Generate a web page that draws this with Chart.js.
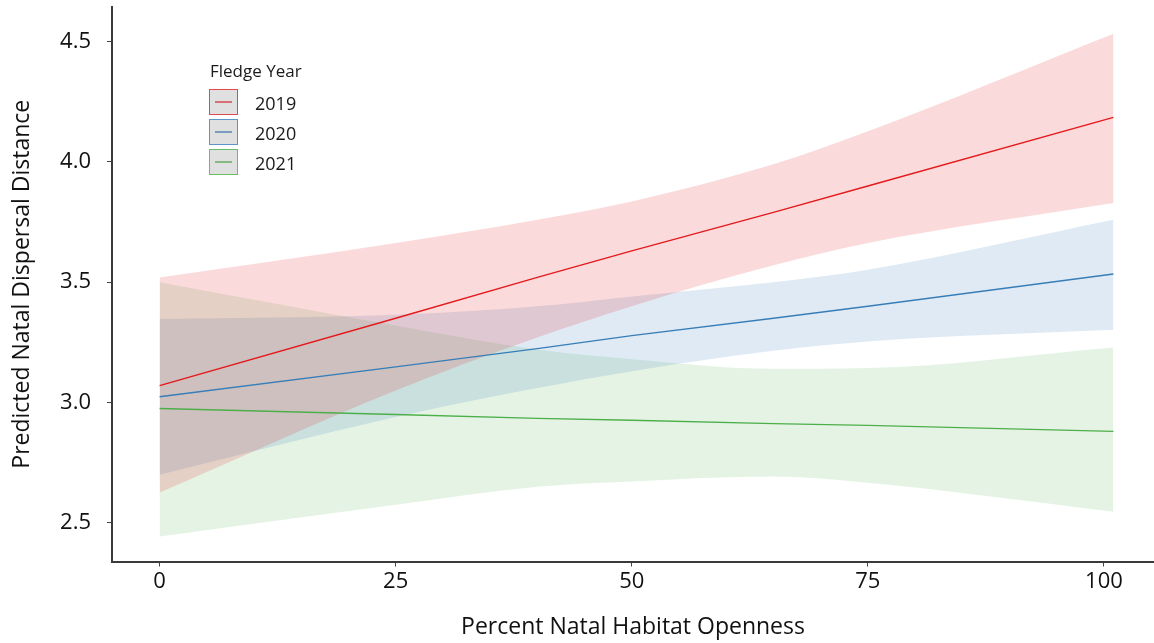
<!DOCTYPE html>
<html>
<head>
<meta charset="utf-8">
<script src="https://cdn.jsdelivr.net/npm/chart.js@4.4.0/dist/chart.umd.min.js"></script>
<style>
    body { margin: 0; background: #fff; }
    #wrap { position: relative; width: 1154px; height: 643px; }
    #legend { position: absolute; left: 0; top: 0; font-family: 'Open Sans', sans-serif; color: #1a1a1a; }
    #legend .ltitle { position: absolute; left: 210px; top: 61px; font-size: 17px; line-height: 20px; white-space: nowrap; }
    #legend .box { position: absolute; left: 209px; width: 27px; height: 24px; background: #e0e0e0; border: 1.5px solid; }
    #legend .box i { position: absolute; left: 5px; right: 5px; top: 11px; height: 2px; }
    #legend .lab { position: absolute; left: 255px; font-size: 18px; line-height: 24px; }
</style>
</head>
<body>
<div id="wrap">
    <canvas id="myChart" width="1154" height="643"></canvas>
    <div id="legend"></div>
</div>
<script>
// x positions (percent natal habitat openness) where the curves were read
const openness = [0, 25, 40, 50, 65, 75, 101];

const years = ['2019', '2020', '2021'];

// fitted values and confidence limits
const fit2019 = [3.07, 3.35, 3.52, 3.63, 3.79, 3.90, 4.185];
const hi2019  = [3.52, 3.663, 3.76, 3.836, 3.99, 4.127, 4.533];
const lo2019  = [2.626, 3.05, 3.27, 3.40, 3.57, 3.663, 3.829];

const fit2020 = [3.024, 3.148, 3.224, 3.278, 3.35, 3.40, 3.534];
const hi2020  = [3.347, 3.365, 3.40, 3.441, 3.50, 3.552, 3.760];
const lo2020  = [2.70, 2.94, 3.06, 3.13, 3.215, 3.254, 3.302];

const fit2021 = [2.975, 2.95, 2.934, 2.926, 2.912, 2.905, 2.88];
const hi2021  = [3.50, 3.32, 3.22, 3.18, 3.14, 3.143, 3.229];
const lo2021  = [2.443, 2.575, 2.65, 2.672, 2.692, 2.666, 2.546];

const xTicks = [0, 25, 50, 75, 100];
const yTicks = [2.5, 3.0, 3.5, 4.0, 4.5];

const lineColors = ['#e41a1c', '#377eb8', '#4daf4a'];
const bandColors = ['rgba(228,26,28,0.16)', 'rgba(55,126,184,0.16)', 'rgba(77,175,74,0.15)'];
const legendBorders = ['#e8474b', '#5b95cc', '#66bf62'];
const legendLines = ['#d87072', '#7a9cbf', '#86b884'];

const fits = [fit2019, fit2020, fit2021];
const highs = [hi2019, hi2020, hi2021];
const lows = [lo2019, lo2020, lo2021];

const toPoints = arr => arr.map((y, i) => ({ x: openness[i], y: y }));
const FONT = 'Open Sans';

// lines first so they are drawn on top of the bands
const datasets = [];
years.forEach((yr, k) => {
    datasets.push({
        label: yr,
        data: toPoints(fits[k]),
        borderColor: lineColors[k],
        borderWidth: 1.4,
        pointRadius: 0,
        fill: false,
        tension: 0
    });
});
years.forEach((yr, k) => {
    datasets.push({
        label: yr + ' upper',
        data: toPoints(highs[k]),
        borderWidth: 0,
        borderColor: 'rgba(0,0,0,0)',
        backgroundColor: bandColors[k],
        pointRadius: 0,
        fill: '+1',
        cubicInterpolationMode: 'monotone'
    });
    datasets.push({
        label: yr + ' lower',
        data: toPoints(lows[k]),
        borderWidth: 0,
        borderColor: 'rgba(0,0,0,0)',
        pointRadius: 0,
        fill: false,
        cubicInterpolationMode: 'monotone'
    });
});

const ctx = document.getElementById('myChart').getContext('2d');
const myChart = new Chart(ctx, {
    type: 'line',
    data: { datasets: datasets },
    options: {
        responsive: false,
        animation: false,
        devicePixelRatio: 1,
        layout: { padding: { top: 7, right: 0, left: 0, bottom: 0 } },
        plugins: {
            legend: { display: false },
            tooltip: { enabled: false }
        },
        scales: {
            x: {
                type: 'linear',
                min: -5.04,
                max: 105.3,
                afterBuildTicks: s => { s.ticks = xTicks.map(v => ({ value: v })); },
                afterFit: s => { s.height = 81.5; s.paddingLeft = 0; s.paddingRight = 0; },
                ticks: { font: { family: FONT, size: 22 }, color: '#111', padding: 2 },
                grid: { drawOnChartArea: false, tickLength: 5, tickColor: '#444', tickWidth: 1 },
                border: { color: '#3a3a3a', width: 2 },
                title: {
                    display: true,
                    text: 'Percent Natal Habitat Openness',
                    font: { family: FONT, size: 23 },
                    color: '#111',
                    padding: { top: 0, bottom: 2 }
                }
            },
            y: {
                min: 2.339,
                max: 4.644,
                afterBuildTicks: s => { s.ticks = yTicks.map(v => ({ value: v })); },
                afterFit: s => { s.width = 112; s.paddingTop = 0; s.paddingBottom = 0; },
                ticks: {
                    font: { family: FONT, size: 22 },
                    color: '#111',
                    padding: 16,
                    callback: v => v.toFixed(1)
                },
                grid: { drawOnChartArea: false, tickLength: 5, tickColor: '#444', tickWidth: 1 },
                border: { color: '#3a3a3a', width: 2 },
                title: {
                    display: true,
                    text: 'Predicted Natal Dispersal Distance',
                    font: { family: FONT, size: 23 },
                    color: '#111',
                    padding: { top: 9, bottom: 0 }
                }
            }
        }
    }
});

// legend drawn as html boxes like the original figure
const legend = document.getElementById('legend');
legend.innerHTML = '<div class="ltitle">Fledge Year</div>';
years.forEach((yr, k) => {
    const top = 89 + k * 30;
    legend.innerHTML +=
        '<div class="box" style="top:' + top + 'px;border-color:' + legendBorders[k] + '">' +
        '<i style="background:' + legendLines[k] + '"></i></div>' +
        '<div class="lab" style="top:' + (top + 2) + 'px">' + yr + '</div>';
});
</script>
</body>
</html>
